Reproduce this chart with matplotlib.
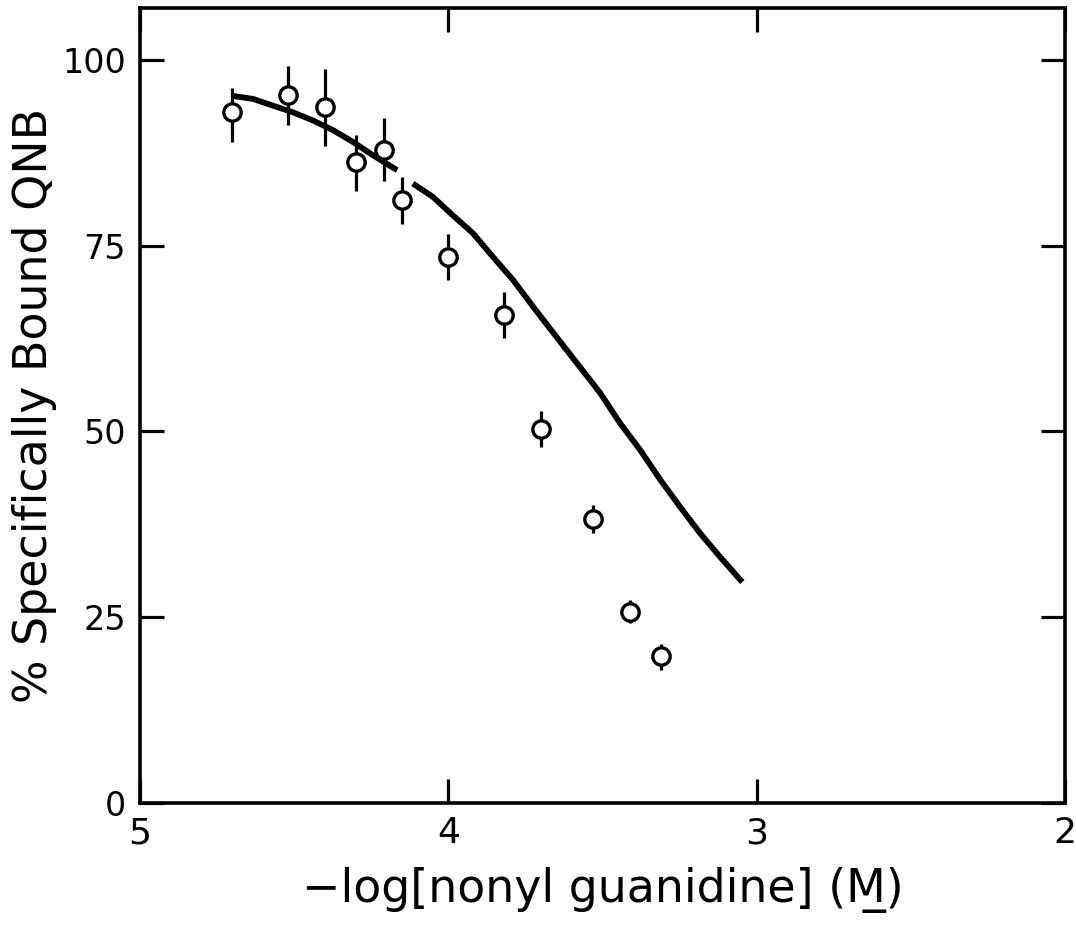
"""
Binding curve: % specifically bound QNB vs -log[nonyl guanidine]
"""
import matplotlib
matplotlib.use("Agg")
import matplotlib.pyplot as plt
import numpy as np

# measured points
conc = [4.70, 4.52, 4.40, 4.30, 4.21, 4.15, 4.00, 3.82, 3.70, 3.53, 3.41, 3.31]
bound = [93.0, 95.3, 93.7, 86.3, 87.9, 81.2, 73.5, 65.7, 50.3, 38.2, 25.7, 19.7]
err_low = [89.0, 91.3, 88.4, 82.4, 83.8, 77.9, 70.4, 62.6, 47.9, 36.3, 24.2, 17.9]
err_high = [96.3, 99.3, 98.8, 89.9, 92.2, 84.3, 76.6, 68.8, 52.8, 40.1, 27.3, 21.3]

# theoretical curve, drawn in two pieces (gap in the original)
curve1_x = [4.698, 4.633, 4.569, 4.504, 4.439, 4.374, 4.309, 4.244, 4.166]
curve1_y = [95.2, 94.8, 93.9, 93.0, 91.9, 90.6, 89.0, 87.2, 85.2]
curve2_x = [4.115, 4.050, 3.985, 3.920, 3.855, 3.790, 3.725, 3.660, 3.583,
            3.508, 3.443, 3.378, 3.313, 3.248, 3.184, 3.119, 3.047]
curve2_y = [83.4, 81.6, 79.1, 76.7, 73.5, 70.4, 66.8, 63.3, 59.2,
            55.2, 51.1, 47.5, 43.5, 39.8, 36.3, 33.1, 29.7]

xticks = [5, 4, 3, 2]
yticks = [0, 25, 50, 75, 100]

plt.rcParams['font.family'] = ['DejaVu Sans']

fig = plt.figure(figsize=(10.76, 9.30), dpi=100)
ax = fig.add_axes([0.130, 0.137, 0.860, 0.854])

ax.plot(curve1_x, curve1_y, color='black', lw=4.2, solid_capstyle='butt')
ax.plot(curve2_x, curve2_y, color='black', lw=4.2, solid_capstyle='butt')

b = np.array(bound)
yerr = [b - np.array(err_low), np.array(err_high) - b]
ax.errorbar(conc, bound, yerr=yerr, fmt='o', color='black', ecolor='black',
            elinewidth=2.3, capsize=0, markersize=12.5, markerfacecolor='white',
            markeredgewidth=2.4, zorder=3)

ax.set_xlim(5, 2)
ax.set_ylim(0, 107)
ax.set_xticks(xticks)
ax.set_yticks(yticks)
ax.set_xticklabels([str(t) for t in xticks], fontsize=26)
ax.set_yticklabels([str(t) for t in yticks], fontsize=24)

ax.tick_params(axis='both', direction='in', length=17, width=2.3,
               top=True, right=True, labelright=False, labeltop=False)
ax.tick_params(axis='x', pad=10)
ax.tick_params(axis='y', pad=10)
for s in ax.spines.values():
    s.set_linewidth(2.6)

ax.set_ylabel('% Specifically Bound QNB', fontsize=33, labelpad=4)
ax.set_xlabel('\u2212log[nonyl guanidine] (M\u0332)', fontsize=33, labelpad=12)

fig.savefig('out.png', dpi=100)
